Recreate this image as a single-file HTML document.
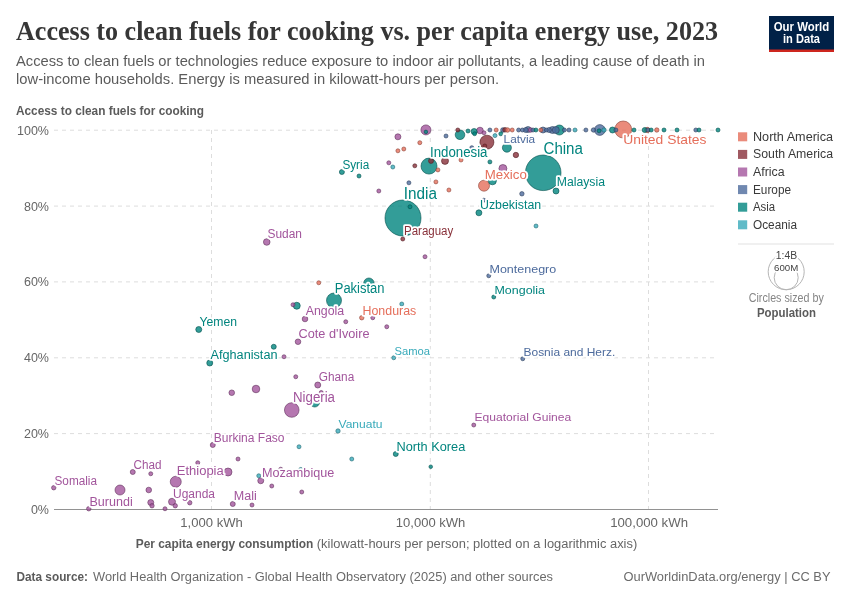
<!DOCTYPE html>
<html><head><meta charset="utf-8">
<style>
html,body{margin:0;padding:0;background:#fff;}
svg{display:block;will-change:transform;opacity:0.999;font-family:"Liberation Sans",sans-serif;}
.t{font-family:"Liberation Serif",serif;font-weight:bold;fill:#363636;}
.g{stroke:#ddd;stroke-width:1;stroke-dasharray:4,4;fill:none;}
.ax{fill:#666;font-size:12.5px;}
.lb{paint-order:stroke;stroke:#fff;stroke-width:3.6px;stroke-linejoin:round;}
</style></head><body>
<svg width="850" height="600" viewBox="0 0 850 600">
<rect width="850" height="600" fill="#fff"/>
<!-- header -->
<text class="t" x="16" y="39.6" font-size="27.5" textLength="702" lengthAdjust="spacingAndGlyphs">Access to clean fuels for cooking vs. per capita energy use, 2023</text>
<text x="16" y="66" font-size="14" fill="#5b5b5b" textLength="689" lengthAdjust="spacingAndGlyphs">Access to clean fuels or technologies reduce exposure to indoor air pollutants, a leading cause of death in</text>
<text x="16" y="84" font-size="14" fill="#5b5b5b" textLength="483" lengthAdjust="spacingAndGlyphs">low-income households. Energy is measured in kilowatt-hours per person.</text>
<!-- logo -->
<rect x="769" y="16" width="65" height="36" fill="#002147"/>
<rect x="769" y="49.5" width="65" height="2.5" fill="#ce261e"/>
<text x="801.5" y="31" font-size="12" font-weight="bold" fill="#fff" text-anchor="middle" textLength="55.5" lengthAdjust="spacingAndGlyphs">Our World</text>
<text x="801.5" y="43" font-size="12" font-weight="bold" fill="#fff" text-anchor="middle" textLength="37" lengthAdjust="spacingAndGlyphs">in Data</text>
<!-- axis label -->
<text x="16" y="115" font-size="12.5" font-weight="bold" fill="#5b5b5b" textLength="188" lengthAdjust="spacingAndGlyphs">Access to clean fuels for cooking</text>
<!-- grid -->
<g class="g">
<line x1="54" y1="130.2" x2="718" y2="130.2"/>
<line x1="54" y1="206.1" x2="718" y2="206.1"/>
<line x1="54" y1="281.9" x2="718" y2="281.9"/>
<line x1="54" y1="357.8" x2="718" y2="357.8"/>
<line x1="54" y1="433.6" x2="718" y2="433.6"/>
<line x1="211.5" y1="130" x2="211.5" y2="509"/>
<line x1="430.3" y1="130" x2="430.3" y2="509"/>
<line x1="648.5" y1="130" x2="648.5" y2="509"/>
</g>
<line x1="54" y1="509.5" x2="718" y2="509.5" stroke="#929292" stroke-width="1"/>
<g class="ax">
<text x="49" y="134.7" text-anchor="end">100%</text>
<text x="49" y="210.6" text-anchor="end">80%</text>
<text x="49" y="286.4" text-anchor="end">60%</text>
<text x="49" y="362.3" text-anchor="end">40%</text>
<text x="49" y="438.1" text-anchor="end">20%</text>
<text x="49" y="514" text-anchor="end">0%</text>
<text x="180.3" y="527.2" textLength="62.5" lengthAdjust="spacingAndGlyphs">1,000 kWh</text>
<text x="395.8" y="527.2" textLength="69.5" lengthAdjust="spacingAndGlyphs">10,000 kWh</text>
<text x="610.2" y="527.2" textLength="77.8" lengthAdjust="spacingAndGlyphs">100,000 kWh</text>
</g>
<text x="135.7" y="547.8" font-size="12.5" font-weight="bold" fill="#5b5b5b" textLength="177.6" lengthAdjust="spacingAndGlyphs">Per capita energy consumption</text>
<text x="316.8" y="547.8" font-size="12.5" fill="#666" textLength="320.4" lengthAdjust="spacingAndGlyphs">(kilowatt-hours per person; plotted on a logarithmic axis)</text>
<!-- footer -->
<text x="16.5" y="581" font-size="12.5" font-weight="bold" fill="#5b5b5b" textLength="71.5" lengthAdjust="spacingAndGlyphs">Data source:</text>
<text x="93" y="581" font-size="12.5" fill="#6b6b6b" textLength="460" lengthAdjust="spacingAndGlyphs">World Health Organization - Global Health Observatory (2025) and other sources</text>
<text x="623.5" y="581" font-size="12.5" fill="#6b6b6b" textLength="207" lengthAdjust="spacingAndGlyphs">OurWorldinData.org/energy | CC BY</text>
<!-- legend -->
<g font-size="12.3" fill="#3a3a3a">
<rect x="738" y="132.3" width="9.2" height="9" fill="#e56e5a" fill-opacity="0.8"/><text x="753" y="140.8" textLength="80" lengthAdjust="spacingAndGlyphs">North America</text>
<rect x="738" y="149.9" width="9.2" height="9" fill="#883039" fill-opacity="0.8"/><text x="753" y="158.4" textLength="80" lengthAdjust="spacingAndGlyphs">South America</text>
<rect x="738" y="167.5" width="9.2" height="9" fill="#a2559c" fill-opacity="0.8"/><text x="753" y="176.0" textLength="31.6" lengthAdjust="spacingAndGlyphs">Africa</text>
<rect x="738" y="185.1" width="9.2" height="9" fill="#4c6a9c" fill-opacity="0.8"/><text x="753" y="193.6" textLength="38" lengthAdjust="spacingAndGlyphs">Europe</text>
<rect x="738" y="202.7" width="9.2" height="9" fill="#00847e" fill-opacity="0.8"/><text x="753" y="211.2" textLength="22.2" lengthAdjust="spacingAndGlyphs">Asia</text>
<rect x="738" y="220.3" width="9.2" height="9" fill="#38aaba" fill-opacity="0.8"/><text x="753" y="228.8" textLength="44" lengthAdjust="spacingAndGlyphs">Oceania</text>
</g>
<line x1="738" y1="244" x2="834" y2="244" stroke="#ebebeb" stroke-width="1.5"/>
<circle cx="786.2" cy="271.75" r="18" fill="none" stroke="#b5b5b5"/>
<circle cx="786.2" cy="277.7" r="12" fill="none" stroke="#b5b5b5"/>
<text x="775.75" y="259.3" font-size="10" fill="#444" textLength="21.3" lengthAdjust="spacingAndGlyphs" class="lb">1:4B</text>
<text x="774" y="271" font-size="9" fill="#444" textLength="24.2" lengthAdjust="spacingAndGlyphs" class="lb">600M</text>
<text x="748.75" y="302.2" font-size="12" fill="#858585" textLength="75" lengthAdjust="spacingAndGlyphs">Circles sized by</text>
<text x="757" y="316.5" font-size="12.3" fill="#5b5b5b" font-weight="bold" textLength="59" lengthAdjust="spacingAndGlyphs">Population</text>
<!-- DOTS -->
<g id="dots" stroke-width="0.6" fill-opacity="0.8">
<circle cx="403" cy="218" r="18" fill="#00847e" stroke="#004f4b"/>
<circle cx="543.2" cy="172.8" r="17.8" fill="#00847e" stroke="#004f4b"/>
<circle cx="623.2" cy="129.5" r="8.5" fill="#e56e5a" stroke="#894236"/>
<circle cx="429" cy="166.1" r="8" fill="#00847e" stroke="#004f4b"/>
<circle cx="334" cy="300.5" r="7.5" fill="#00847e" stroke="#004f4b"/>
<circle cx="291.75" cy="410" r="7.3" fill="#a2559c" stroke="#61335d"/>
<circle cx="486.9" cy="142.2" r="7" fill="#883039" stroke="#511c22"/>
<circle cx="484" cy="185.7" r="5.5" fill="#e56e5a" stroke="#894236"/>
<circle cx="175.75" cy="481.75" r="5.5" fill="#a2559c" stroke="#61335d"/>
<circle cx="599.8" cy="130" r="5.4" fill="#4c6a9c" stroke="#2d3f5d"/>
<circle cx="368.9" cy="283.2" r="5.2" fill="#00847e" stroke="#004f4b"/>
<circle cx="559.4" cy="130" r="5" fill="#00847e" stroke="#004f4b"/>
<circle cx="425.9" cy="129.9" r="5" fill="#a2559c" stroke="#61335d"/>
<circle cx="120" cy="490" r="5" fill="#a2559c" stroke="#61335d"/>
<circle cx="460" cy="134.8" r="4.8" fill="#00847e" stroke="#004f4b"/>
<circle cx="314.75" cy="402.2" r="4.8" fill="#00847e" stroke="#004f4b"/>
<circle cx="506.9" cy="147.7" r="4.5" fill="#00847e" stroke="#004f4b"/>
<circle cx="502.9" cy="168.5" r="4" fill="#a2559c" stroke="#61335d"/>
<circle cx="492.4" cy="180.8" r="4" fill="#00847e" stroke="#004f4b"/>
<circle cx="228" cy="472" r="4" fill="#a2559c" stroke="#61335d"/>
<circle cx="256" cy="389" r="3.8" fill="#a2559c" stroke="#61335d"/>
<circle cx="552.5" cy="130" r="3.5" fill="#4c6a9c" stroke="#2d3f5d"/>
<circle cx="555.8" cy="130" r="3.5" fill="#4c6a9c" stroke="#2d3f5d"/>
<circle cx="445" cy="160.9" r="3.5" fill="#883039" stroke="#511c22"/>
<circle cx="296.75" cy="305.75" r="3.5" fill="#00847e" stroke="#004f4b"/>
<circle cx="172" cy="501.75" r="3.5" fill="#a2559c" stroke="#61335d"/>
<circle cx="480" cy="130.5" r="3.3" fill="#a2559c" stroke="#61335d"/>
<circle cx="266.75" cy="242" r="3.3" fill="#a2559c" stroke="#61335d"/>
<circle cx="474.1" cy="131.5" r="3" fill="#00847e" stroke="#004f4b"/>
<circle cx="528" cy="129.5" r="3" fill="#4c6a9c" stroke="#2d3f5d"/>
<circle cx="543" cy="130" r="3" fill="#4c6a9c" stroke="#2d3f5d"/>
<circle cx="612.5" cy="130" r="3" fill="#00847e" stroke="#004f4b"/>
<circle cx="397.9" cy="136.8" r="3" fill="#a2559c" stroke="#61335d"/>
<circle cx="556" cy="191" r="3" fill="#00847e" stroke="#004f4b"/>
<circle cx="478.9" cy="212.8" r="3" fill="#00847e" stroke="#004f4b"/>
<circle cx="198.75" cy="329.5" r="3" fill="#00847e" stroke="#004f4b"/>
<circle cx="209.75" cy="363" r="3" fill="#00847e" stroke="#004f4b"/>
<circle cx="317.75" cy="385" r="3" fill="#a2559c" stroke="#61335d"/>
<circle cx="260.75" cy="480.75" r="3" fill="#a2559c" stroke="#61335d"/>
<circle cx="150.75" cy="502.5" r="3" fill="#a2559c" stroke="#61335d"/>
<circle cx="305" cy="319" r="2.8" fill="#a2559c" stroke="#61335d"/>
<circle cx="298" cy="341.75" r="2.8" fill="#a2559c" stroke="#61335d"/>
<circle cx="231.75" cy="392.75" r="2.8" fill="#a2559c" stroke="#61335d"/>
<circle cx="148.75" cy="490" r="2.8" fill="#a2559c" stroke="#61335d"/>
<circle cx="647.3" cy="130" r="2.7" fill="#e56e5a" stroke="#894236"/>
<circle cx="515.9" cy="155" r="2.7" fill="#883039" stroke="#511c22"/>
<circle cx="525.7" cy="130" r="2.5" fill="#4c6a9c" stroke="#2d3f5d"/>
<circle cx="549" cy="130" r="2.5" fill="#4c6a9c" stroke="#2d3f5d"/>
<circle cx="644.7" cy="130" r="2.5" fill="#00847e" stroke="#004f4b"/>
<circle cx="341.9" cy="172" r="2.5" fill="#00847e" stroke="#004f4b"/>
<circle cx="431" cy="160.9" r="2.5" fill="#883039" stroke="#511c22"/>
<circle cx="273.75" cy="346.75" r="2.5" fill="#00847e" stroke="#004f4b"/>
<circle cx="395.75" cy="454" r="2.5" fill="#00847e" stroke="#004f4b"/>
<circle cx="212.75" cy="445" r="2.5" fill="#a2559c" stroke="#61335d"/>
<circle cx="232.75" cy="504" r="2.5" fill="#a2559c" stroke="#61335d"/>
<circle cx="132.75" cy="472" r="2.5" fill="#a2559c" stroke="#61335d"/>
<circle cx="502.9" cy="130" r="2.3" fill="#4c6a9c" stroke="#2d3f5d"/>
<circle cx="505" cy="129.8" r="2.3" fill="#883039" stroke="#511c22"/>
<circle cx="507.5" cy="130" r="2.3" fill="#e56e5a" stroke="#894236"/>
<circle cx="530.6" cy="130" r="2.3" fill="#a2559c" stroke="#61335d"/>
<circle cx="593.5" cy="130" r="2.2" fill="#4c6a9c" stroke="#2d3f5d"/>
<circle cx="604" cy="130" r="2.2" fill="#38aaba" stroke="#21666f"/>
<circle cx="656.8" cy="130" r="2.2" fill="#e56e5a" stroke="#894236"/>
<circle cx="521.9" cy="193.8" r="2.2" fill="#4c6a9c" stroke="#2d3f5d"/>
<circle cx="361.75" cy="317.75" r="2.2" fill="#e56e5a" stroke="#894236"/>
<circle cx="338" cy="431" r="2.2" fill="#38aaba" stroke="#21666f"/>
<circle cx="189.75" cy="502.75" r="2.2" fill="#a2559c" stroke="#61335d"/>
<circle cx="53.75" cy="487.75" r="2.2" fill="#a2559c" stroke="#61335d"/>
<circle cx="88.75" cy="508.75" r="2.2" fill="#a2559c" stroke="#61335d"/>
<circle cx="152" cy="505.75" r="2.2" fill="#a2559c" stroke="#61335d"/>
<circle cx="175.25" cy="505.75" r="2.2" fill="#a2559c" stroke="#61335d"/>
<circle cx="457.8" cy="130" r="2" fill="#883039" stroke="#511c22"/>
<circle cx="468" cy="131" r="2" fill="#00847e" stroke="#004f4b"/>
<circle cx="474.6" cy="133.7" r="2" fill="#00847e" stroke="#004f4b"/>
<circle cx="484" cy="132.8" r="2" fill="#a2559c" stroke="#61335d"/>
<circle cx="489.9" cy="130" r="2" fill="#4c6a9c" stroke="#2d3f5d"/>
<circle cx="496.2" cy="130" r="2" fill="#e56e5a" stroke="#894236"/>
<circle cx="495" cy="135.6" r="2" fill="#38aaba" stroke="#21666f"/>
<circle cx="500.8" cy="133.8" r="2" fill="#00847e" stroke="#004f4b"/>
<circle cx="512.2" cy="130" r="2" fill="#e56e5a" stroke="#894236"/>
<circle cx="518.6" cy="130" r="2" fill="#4c6a9c" stroke="#2d3f5d"/>
<circle cx="522.4" cy="130" r="2" fill="#4c6a9c" stroke="#2d3f5d"/>
<circle cx="533" cy="130" r="2" fill="#4c6a9c" stroke="#2d3f5d"/>
<circle cx="535.9" cy="130" r="2" fill="#00847e" stroke="#004f4b"/>
<circle cx="540.8" cy="130" r="2" fill="#e56e5a" stroke="#894236"/>
<circle cx="546.3" cy="130" r="2" fill="#4c6a9c" stroke="#2d3f5d"/>
<circle cx="564.4" cy="130" r="2" fill="#4c6a9c" stroke="#2d3f5d"/>
<circle cx="569" cy="130" r="2" fill="#4c6a9c" stroke="#2d3f5d"/>
<circle cx="575" cy="130" r="2" fill="#38aaba" stroke="#21666f"/>
<circle cx="585.9" cy="130" r="2" fill="#4c6a9c" stroke="#2d3f5d"/>
<circle cx="599.1" cy="130.8" r="2" fill="#00847e" stroke="#004f4b"/>
<circle cx="615.9" cy="130" r="2" fill="#4c6a9c" stroke="#2d3f5d"/>
<circle cx="634" cy="130" r="2" fill="#00847e" stroke="#004f4b"/>
<circle cx="648" cy="130" r="2" fill="#4c6a9c" stroke="#2d3f5d"/>
<circle cx="651.2" cy="130" r="2" fill="#00847e" stroke="#004f4b"/>
<circle cx="664" cy="130" r="2" fill="#00847e" stroke="#004f4b"/>
<circle cx="677" cy="130" r="2" fill="#00847e" stroke="#004f4b"/>
<circle cx="695.8" cy="130" r="2" fill="#4c6a9c" stroke="#2d3f5d"/>
<circle cx="699" cy="130" r="2" fill="#00847e" stroke="#004f4b"/>
<circle cx="718" cy="130" r="2" fill="#00847e" stroke="#004f4b"/>
<circle cx="446" cy="136" r="2" fill="#4c6a9c" stroke="#2d3f5d"/>
<circle cx="419.8" cy="142.7" r="2" fill="#e56e5a" stroke="#894236"/>
<circle cx="403.8" cy="149" r="2" fill="#e56e5a" stroke="#894236"/>
<circle cx="397.9" cy="150.8" r="2" fill="#e56e5a" stroke="#894236"/>
<circle cx="388.8" cy="162.8" r="2" fill="#a2559c" stroke="#61335d"/>
<circle cx="392.8" cy="167" r="2" fill="#38aaba" stroke="#21666f"/>
<circle cx="359" cy="176" r="2" fill="#00847e" stroke="#004f4b"/>
<circle cx="414.8" cy="165.8" r="2" fill="#883039" stroke="#511c22"/>
<circle cx="461" cy="160" r="2" fill="#e56e5a" stroke="#894236"/>
<circle cx="437.9" cy="169.9" r="2" fill="#e56e5a" stroke="#894236"/>
<circle cx="435.9" cy="181.9" r="2" fill="#e56e5a" stroke="#894236"/>
<circle cx="408.9" cy="182.8" r="2" fill="#4c6a9c" stroke="#2d3f5d"/>
<circle cx="378.8" cy="191" r="2" fill="#a2559c" stroke="#61335d"/>
<circle cx="448.9" cy="190" r="2" fill="#e56e5a" stroke="#894236"/>
<circle cx="484.8" cy="146" r="2" fill="#883039" stroke="#511c22"/>
<circle cx="471.8" cy="147.7" r="2" fill="#4c6a9c" stroke="#2d3f5d"/>
<circle cx="489.9" cy="161.9" r="2" fill="#00847e" stroke="#004f4b"/>
<circle cx="483.8" cy="200.2" r="2" fill="#4c6a9c" stroke="#2d3f5d"/>
<circle cx="536" cy="226" r="2" fill="#38aaba" stroke="#21666f"/>
<circle cx="410" cy="206.75" r="2" fill="#00847e" stroke="#004f4b"/>
<circle cx="402.75" cy="239" r="2" fill="#883039" stroke="#511c22"/>
<circle cx="425" cy="256.75" r="2" fill="#a2559c" stroke="#61335d"/>
<circle cx="318.75" cy="282.75" r="2" fill="#e56e5a" stroke="#894236"/>
<circle cx="293" cy="304.75" r="2" fill="#a2559c" stroke="#61335d"/>
<circle cx="345.75" cy="321.75" r="2" fill="#a2559c" stroke="#61335d"/>
<circle cx="372.75" cy="317.75" r="2" fill="#a2559c" stroke="#61335d"/>
<circle cx="386.75" cy="326.75" r="2" fill="#a2559c" stroke="#61335d"/>
<circle cx="284" cy="356.75" r="2" fill="#a2559c" stroke="#61335d"/>
<circle cx="488.75" cy="275.75" r="2" fill="#4c6a9c" stroke="#2d3f5d"/>
<circle cx="493.75" cy="297" r="2" fill="#00847e" stroke="#004f4b"/>
<circle cx="401.75" cy="304" r="2" fill="#38aaba" stroke="#21666f"/>
<circle cx="393.75" cy="357.75" r="2" fill="#38aaba" stroke="#21666f"/>
<circle cx="522.75" cy="358.75" r="2" fill="#4c6a9c" stroke="#2d3f5d"/>
<circle cx="473.75" cy="425" r="2" fill="#a2559c" stroke="#61335d"/>
<circle cx="295.75" cy="376.75" r="2" fill="#a2559c" stroke="#61335d"/>
<circle cx="321.25" cy="392.5" r="2" fill="#a2559c" stroke="#61335d"/>
<circle cx="299" cy="446.75" r="2" fill="#38aaba" stroke="#21666f"/>
<circle cx="238" cy="459" r="2" fill="#a2559c" stroke="#61335d"/>
<circle cx="351.75" cy="459" r="2" fill="#38aaba" stroke="#21666f"/>
<circle cx="197.75" cy="462.75" r="2" fill="#a2559c" stroke="#61335d"/>
<circle cx="258.75" cy="475.75" r="2" fill="#38aaba" stroke="#21666f"/>
<circle cx="271.75" cy="486" r="2" fill="#a2559c" stroke="#61335d"/>
<circle cx="301.75" cy="492" r="2" fill="#a2559c" stroke="#61335d"/>
<circle cx="252" cy="505" r="2" fill="#a2559c" stroke="#61335d"/>
<circle cx="280.75" cy="469.2" r="2" fill="#a2559c" stroke="#61335d"/>
<circle cx="300.75" cy="469.4" r="2" fill="#38aaba" stroke="#21666f"/>
<circle cx="150.75" cy="473.75" r="2" fill="#a2559c" stroke="#61335d"/>
<circle cx="165" cy="508.75" r="2" fill="#a2559c" stroke="#61335d"/>
<circle cx="425.9" cy="131.9" r="1.8" fill="#00847e" stroke="#004f4b"/>
<circle cx="430.75" cy="466.75" r="1.8" fill="#00847e" stroke="#004f4b"/>
</g>
<!-- LABELS -->
<g id="labels" class="lb">
<text x="623.2" y="144.4" font-size="13.5" fill="#e56e5a" textLength="83.3" lengthAdjust="spacingAndGlyphs">United States</text>
<text x="503.6" y="142.9" font-size="11" fill="#4c6a9c" textLength="31.5" lengthAdjust="spacingAndGlyphs">Latvia</text>
<text x="543.5" y="153.6" font-size="16" fill="#00847e" textLength="39.4" lengthAdjust="spacingAndGlyphs">China</text>
<text x="430" y="157" font-size="14" fill="#00847e" textLength="57.5" lengthAdjust="spacingAndGlyphs">Indonesia</text>
<text x="342.4" y="168.6" font-size="12" fill="#00847e" textLength="26.8" lengthAdjust="spacingAndGlyphs">Syria</text>
<text x="484.8" y="179.3" font-size="12.5" fill="#e56e5a" textLength="42" lengthAdjust="spacingAndGlyphs">Mexico</text>
<text x="556.8" y="186.3" font-size="12" fill="#00847e" textLength="48.2" lengthAdjust="spacingAndGlyphs">Malaysia</text>
<text x="403.8" y="198.5" font-size="16" fill="#00847e" textLength="33.1" lengthAdjust="spacingAndGlyphs">India</text>
<text x="480" y="208.8" font-size="12" fill="#00847e" textLength="61.2" lengthAdjust="spacingAndGlyphs">Uzbekistan</text>
<text x="404" y="235" font-size="12" fill="#883039" textLength="49.25" lengthAdjust="spacingAndGlyphs">Paraguay</text>
<text x="267.5" y="237.5" font-size="12" fill="#a2559c" textLength="34.5" lengthAdjust="spacingAndGlyphs">Sudan</text>
<text x="489.5" y="272.5" font-size="11" fill="#4c6a9c" textLength="66.75" lengthAdjust="spacingAndGlyphs">Montenegro</text>
<text x="334.75" y="292.5" font-size="14" fill="#00847e" textLength="49.75" lengthAdjust="spacingAndGlyphs">Pakistan</text>
<text x="494.5" y="293.75" font-size="11.5" fill="#00847e" textLength="50.5" lengthAdjust="spacingAndGlyphs">Mongolia</text>
<text x="305.75" y="315" font-size="12" fill="#a2559c" textLength="38.5" lengthAdjust="spacingAndGlyphs">Angola</text>
<text x="362.5" y="315" font-size="12" fill="#e56e5a" textLength="53.75" lengthAdjust="spacingAndGlyphs">Honduras</text>
<text x="199.5" y="325.75" font-size="12" fill="#00847e" textLength="37.5" lengthAdjust="spacingAndGlyphs">Yemen</text>
<text x="298.5" y="338" font-size="12" fill="#a2559c" textLength="71" lengthAdjust="spacingAndGlyphs">Cote d'Ivoire</text>
<text x="394.5" y="354.5" font-size="11" fill="#38aaba" textLength="35.5" lengthAdjust="spacingAndGlyphs">Samoa</text>
<text x="523.5" y="355.5" font-size="11" fill="#4c6a9c" textLength="91.8" lengthAdjust="spacingAndGlyphs">Bosnia and Herz.</text>
<text x="210.5" y="358.75" font-size="12.5" fill="#00847e" textLength="67" lengthAdjust="spacingAndGlyphs">Afghanistan</text>
<text x="318.75" y="380.75" font-size="12" fill="#a2559c" textLength="35.5" lengthAdjust="spacingAndGlyphs">Ghana</text>
<text x="293" y="401.75" font-size="14" fill="#a2559c" textLength="42" lengthAdjust="spacingAndGlyphs">Nigeria</text>
<text x="474.5" y="421.25" font-size="11" fill="#a2559c" textLength="96.75" lengthAdjust="spacingAndGlyphs">Equatorial Guinea</text>
<text x="338.5" y="427.5" font-size="11" fill="#38aaba" textLength="44" lengthAdjust="spacingAndGlyphs">Vanuatu</text>
<text x="213.75" y="441.8" font-size="12" fill="#a2559c" textLength="70.75" lengthAdjust="spacingAndGlyphs">Burkina Faso</text>
<text x="396.5" y="450.5" font-size="12" fill="#00847e" textLength="68.75" lengthAdjust="spacingAndGlyphs">North Korea</text>
<text x="133.5" y="468.9" font-size="12" fill="#a2559c" textLength="28" lengthAdjust="spacingAndGlyphs">Chad</text>
<text x="176.75" y="475" font-size="12.5" fill="#a2559c" textLength="47" lengthAdjust="spacingAndGlyphs">Ethiopia</text>
<text x="262" y="476.75" font-size="12" fill="#a2559c" textLength="72.25" lengthAdjust="spacingAndGlyphs">Mozambique</text>
<text x="54.5" y="484.5" font-size="12" fill="#a2559c" textLength="42.5" lengthAdjust="spacingAndGlyphs">Somalia</text>
<text x="173" y="497.5" font-size="12" fill="#a2559c" textLength="42" lengthAdjust="spacingAndGlyphs">Uganda</text>
<text x="233.75" y="500.25" font-size="12" fill="#a2559c" textLength="23" lengthAdjust="spacingAndGlyphs">Mali</text>
<text x="89.5" y="505.5" font-size="12" fill="#a2559c" textLength="43.25" lengthAdjust="spacingAndGlyphs">Burundi</text>
</g>
</svg>
</body></html>
